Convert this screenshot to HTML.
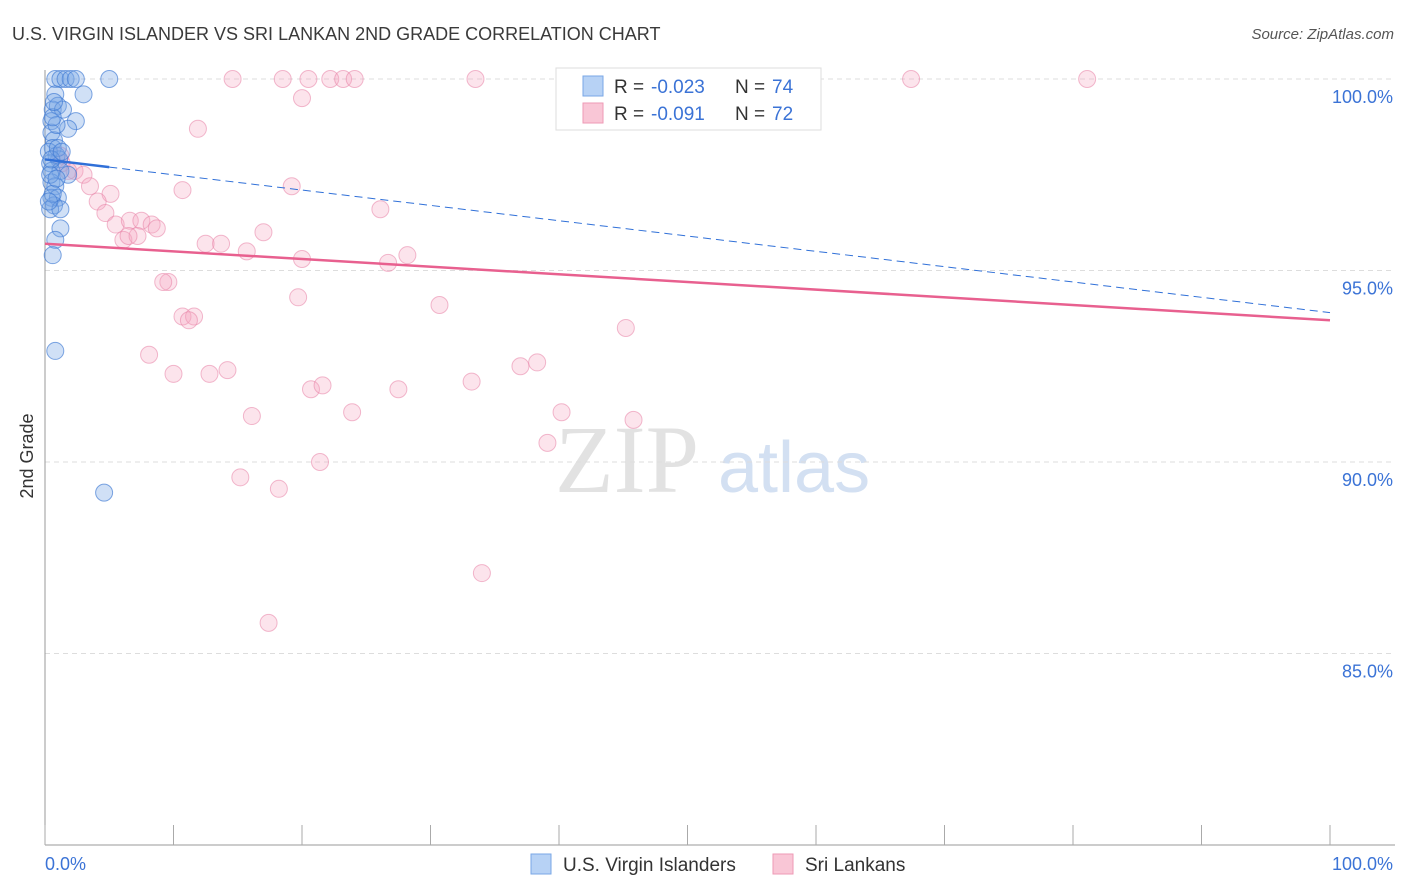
<!DOCTYPE html>
<html><head><meta charset="utf-8"><style>
body{margin:0;background:#fff;font-family:"Liberation Sans",sans-serif}
#c{position:relative;width:1406px;height:892px;overflow:hidden}
</style></head><body>
<div id="c">
<svg id="s" width="1406" height="892" xmlns="http://www.w3.org/2000/svg">
<text x="12" y="40" font-size="18" fill="#3a3a3a">U.S. VIRGIN ISLANDER VS SRI LANKAN 2ND GRADE CORRELATION CHART</text>
<text x="1394" y="39" font-size="15" fill="#555" font-style="italic" text-anchor="end">Source: ZipAtlas.com</text>
<text x="33" y="456" font-size="18" fill="#333" transform="rotate(-90 33 456)" text-anchor="middle">2nd Grade</text>
<text x="555" y="492" font-size="96" fill="#e2e2e2" font-family="Liberation Serif">ZIP</text>
<text x="718" y="492" font-size="72" fill="#d3e0f2">atlas</text>
<g id="grid"></g><g id="pts"></g><g id="trend"></g>
<g>
<rect x="556" y="68" width="265" height="62" fill="#fff" stroke="#ddd"/>
<rect x="583" y="76" width="20" height="20" fill="#b7d2f5" stroke="#7aa7e6"/>
<rect x="583" y="103" width="20" height="20" fill="#f9c6d6" stroke="#ee9ab5"/>
<text x="614" y="93" font-size="19" fill="#333">R =</text>
<text x="651" y="93" font-size="19" fill="#3b73d6">-0.023</text>
<text x="735" y="93" font-size="19" fill="#333">N =</text>
<text x="772" y="93" font-size="19" fill="#3b73d6">74</text>
<text x="614" y="120" font-size="19" fill="#333">R =</text>
<text x="651" y="120" font-size="19" fill="#3b73d6">-0.091</text>
<text x="735" y="120" font-size="19" fill="#333">N =</text>
<text x="772" y="120" font-size="19" fill="#3b73d6">72</text>
</g>
<rect x="531" y="854" width="20" height="20" fill="#b7d2f5" stroke="#7aa7e6"/>
<text x="563" y="871" font-size="19" fill="#333">U.S. Virgin Islanders</text>
<rect x="773" y="854" width="20" height="20" fill="#f9c6d6" stroke="#ee9ab5"/>
<text x="805" y="871" font-size="19" fill="#333">Sri Lankans</text>
<text x="45" y="870" font-size="18" fill="#3b73d6">0.0%</text>
<text x="1393" y="870" font-size="18" fill="#3b73d6" text-anchor="end">100.0%</text>
</svg></div>
<script>
const yTicks=[100,95,90,85];
const xTicks=[0,10,20,30,40,50,60,70,80,90,100];
const blueX=[0.8,1.2,1.6,2,2.4,5,3,0.8,0.6,1,1.4,2.4,0.5,0.5,0.7,1.8,0.6,0.9,1.1,0.4,0.5,1.2,0.5,0.8,0.5,1,0.7,0.4,1.2,1.2,0.8,0.6,0.8,4.6,1.8,0.9,0.6,0.3,0.4,0.6,1.0,0.3,0.7,0.5,0.9,1.3];
const blueY=[100,100,100,100,100,100,99.6,99.6,99.2,99.3,99.2,98.9,98.9,98.6,98.4,98.7,98.2,98,97.9,97.8,97.6,97.6,97.3,97.2,96.9,96.9,96.7,96.6,96.6,96.1,95.8,95.4,92.9,89.2,97.5,98.8,99.0,98.1,97.5,97.0,98.2,96.8,99.4,97.9,97.4,98.1];
const pinkX=[14.6,18.5,20.5,22.2,23.2,24.1,33.5,41.5,67.4,81.1,20.0,11.9,1.2,1.3,2.3,3.0,1.8,3.5,5.1,4.1,4.7,5.5,6.6,7.5,8.3,8.7,6.1,7.2,6.5,10.7,19.2,26.1,17.0,12.5,13.7,15.7,20.0,26.7,28.2,9.6,9.2,19.7,30.7,10.7,11.6,11.2,45.2,8.1,10.0,12.8,14.2,20.7,21.6,27.5,33.2,37.0,38.3,23.9,16.1,40.2,45.8,39.1,21.4,15.2,18.2,34.0,17.4];
const pinkY=[100,100,100,100,100,100,100,100,100,100,99.5,98.7,98.0,97.8,97.6,97.5,97.6,97.2,97.0,96.8,96.5,96.2,96.3,96.3,96.2,96.1,95.8,95.9,95.9,97.1,97.2,96.6,96.0,95.7,95.7,95.5,95.3,95.2,95.4,94.7,94.7,94.3,94.1,93.8,93.8,93.7,93.5,92.8,92.3,92.3,92.4,91.9,92.0,91.9,92.1,92.5,92.6,91.3,91.2,91.3,91.1,90.5,90.0,89.6,89.3,87.1,85.8];
const blueTrend=[97.9,93.9];
const pinkTrend=[95.7,93.7];
const NS='http://www.w3.org/2000/svg';
const X=v=>45+v*12.85, Y=v=>845-(v-80)*38.3;
function mk(t,a,p){const e=document.createElementNS(NS,t);for(const k in a)e.setAttribute(k,a[k]);p.appendChild(e);return e;}
const g=document.getElementById('grid');
yTicks.forEach(t=>{
 const l=mk('line',{x1:45,x2:1395,y1:Y(t),y2:Y(t),stroke:'#ddd','stroke-dasharray':'5,4'},g);
 
 
 const tx=mk('text',{x:1393,y:Y(t)+24,'font-size':18,fill:'#3b73d6','text-anchor':'end'},g);
 tx.textContent=t.toFixed(1)+'%';
 
 
});
mk('line',{x1:45,x2:45,y1:70,y2:845,stroke:'#999'},g);
mk('line',{x1:45,x2:1395,y1:845,y2:845,stroke:'#999'},g);
xTicks.forEach(t=>{
 const l=mk('line',{x1:X(t),x2:X(t),y1:825,y2:845,stroke:'#aaa'},g);
 
 
});
const p=document.getElementById('pts');
pinkX.forEach((x,i)=>{
 const c=mk('circle',{cx:X(x),cy:Y(pinkY[i]),r:8.5,fill:'rgba(245,165,192,0.3)',stroke:'rgba(232,130,165,0.55)','stroke-width':1},p);
 
 
});
blueX.forEach((x,i)=>{
 const c=mk('circle',{cx:X(x),cy:Y(blueY[i]),r:8.5,fill:'rgba(120,165,230,0.35)',stroke:'rgba(60,120,210,0.65)','stroke-width':1},p);
 
 
});
const tr=document.getElementById('trend');
const bs=blueTrend[0]+(blueTrend[1]-blueTrend[0])*0.05;
const b1=mk('line',{x1:X(0),y1:Y(blueTrend[0]),x2:X(5),y2:Y(bs),stroke:'#3070d8','stroke-width':2.5},tr);


const b2=mk('line',{x1:X(5),y1:Y(bs),x2:X(100),y2:Y(blueTrend[1]),stroke:'#3070d8','stroke-width':1,'stroke-dasharray':'8,5'},tr);


const pl=mk('line',{x1:X(0),y1:Y(pinkTrend[0]),x2:X(100),y2:Y(pinkTrend[1]),stroke:'#e8608f','stroke-width':2.5},tr);


</script>
</body></html>
